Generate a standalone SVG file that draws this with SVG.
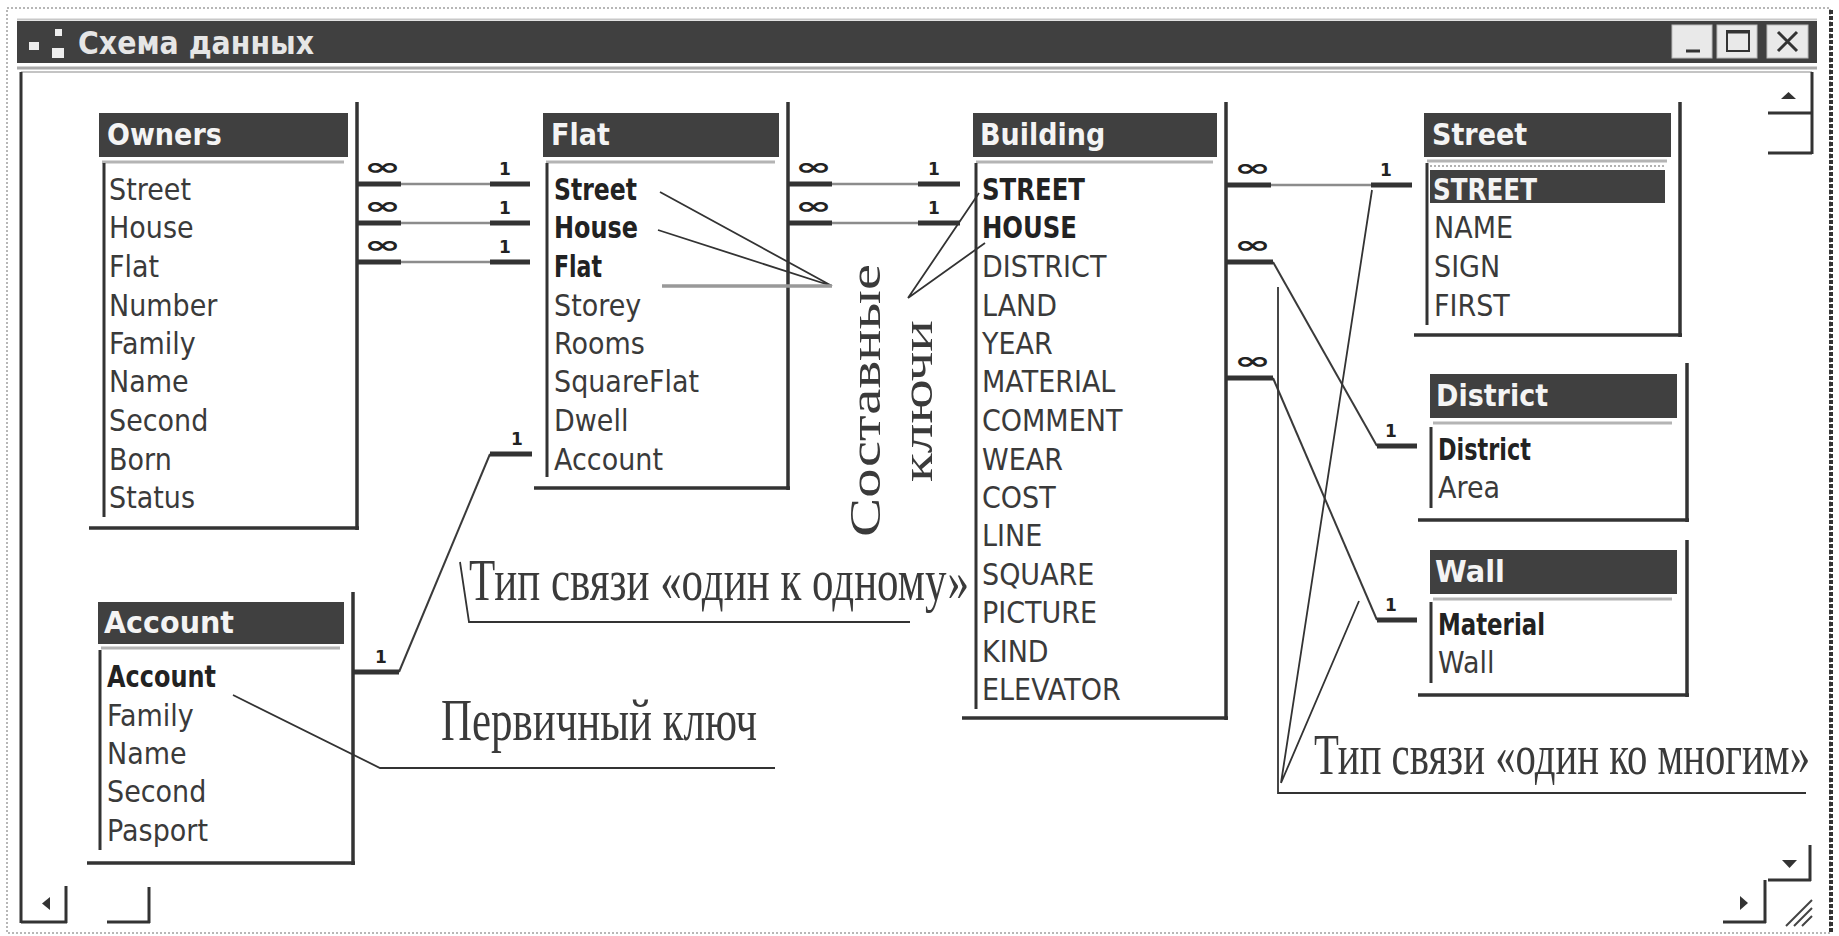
<svg xmlns="http://www.w3.org/2000/svg" width="1839" height="936" viewBox="0 0 1839 936">
<style>
.f{font-family:"DejaVu Sans",Verdana,sans-serif;font-size:27px;fill:#3a3a3a}
.fb{font-family:"DejaVu Sans",Verdana,sans-serif;font-size:27px;font-weight:bold;fill:#222}
.h{font-family:"DejaVu Sans",Verdana,sans-serif;font-size:27px;font-weight:bold;fill:#f4f4f4}
.hd{fill:#404040}
.ul{stroke:#b4b4b4;stroke-width:3;fill:none}
.bl{stroke:#333;stroke-width:3;fill:none}
.br{stroke:#333;stroke-width:3.5;fill:none}
.thin{stroke:#8c8c8c;stroke-width:2.5;fill:none}
.thick{stroke:#333;stroke-width:5;fill:none}
.diag{stroke:#3a3a3a;stroke-width:2;fill:none}
.inf{font-family:"DejaVu Sans",sans-serif;font-size:24px;font-weight:bold;fill:#222}
.one{font-family:"DejaVu Sans",sans-serif;font-size:17px;font-weight:bold;fill:#222}
.ann{stroke:#333;stroke-width:1.8;fill:none}
.at{font-family:"Liberation Serif","Times New Roman",serif;fill:#3a3a3a}
.win{stroke:#333;stroke-width:3;fill:none}
.btn{fill:#e9e9e9;stroke:#bbb;stroke-width:1}
</style>

<!-- window frame -->
<g id="window">
<rect x="0" y="0" width="1839" height="936" fill="#fff"/>
<rect x="7" y="8" width="1823" height="925" fill="#fff" stroke="#a0a0a0" stroke-width="1.5" stroke-dasharray="2 2"/>
<line x1="1831" y1="10" x2="1831" y2="933" stroke="#333" stroke-width="4" stroke-dasharray="4 2"/>
<rect x="17" y="21" width="1800" height="42" fill="#404040"/>
<line x1="17" y1="19.5" x2="1817" y2="19.5" stroke="#c8c8c8" stroke-width="2"/>
<line x1="17" y1="68" x2="1817" y2="68" stroke="#aaa" stroke-width="3"/>
<rect x="29" y="42" width="10" height="8" fill="#eee"/>
<rect x="55" y="29" width="7" height="7" fill="#eee"/>
<rect x="52" y="48" width="12" height="10" fill="#eee"/>
<text transform="translate(78,54) scale(1,1.15)" font-family="DejaVu Sans,Verdana,sans-serif" font-size="28" font-weight="bold" fill="#e6e6e6" textLength="236" lengthAdjust="spacingAndGlyphs">Схема данных</text>
<rect class="btn" x="1672" y="25" width="40" height="33"/>
<line x1="1686" y1="51" x2="1700" y2="51" stroke="#333" stroke-width="3"/>
<rect class="btn" x="1717" y="25" width="40" height="33"/>
<rect x="1727" y="31" width="22" height="20" fill="none" stroke="#333" stroke-width="2"/>
<line x1="1727" y1="32" x2="1749" y2="32" stroke="#333" stroke-width="3"/>
<rect class="btn" x="1767" y="25" width="41" height="33"/>
<path d="M1778 32 L1797 51 M1797 32 L1778 51" stroke="#333" stroke-width="3"/>
<line x1="21" y1="72" x2="1812" y2="72" stroke="#b0b0b0" stroke-width="1.5"/>
<line x1="21" y1="72" x2="21" y2="923" class="win"/>
<line x1="1812" y1="72" x2="1812" y2="154" class="win"/>
<line x1="1768" y1="113" x2="1812" y2="113" class="win"/>
<line x1="1768" y1="153" x2="1812" y2="153" class="win"/>
<polygon points="1781,99 1796,99 1788.5,92" fill="#333"/>
<line x1="1810" y1="845" x2="1810" y2="881" class="win"/>
<line x1="1768" y1="880" x2="1811" y2="880" class="win"/>
<polygon points="1782,860 1797,860 1789.5,868" fill="#333"/>
<line x1="1765" y1="880" x2="1765" y2="923" class="win"/>
<line x1="1723" y1="922" x2="1766" y2="922" class="win"/>
<polygon points="1740,896 1740,910 1748,903" fill="#333"/>
<path d="M1786 926 L1812 900 M1794 926 L1812 908 M1802 926 L1812 916" stroke="#444" stroke-width="2"/>
<line x1="21" y1="922" x2="67" y2="922" class="win"/>
<line x1="66" y1="886" x2="66" y2="923" class="win"/>
<polygon points="50,897 50,910 42,903.5" fill="#333"/>
<line x1="107" y1="922" x2="150" y2="922" class="win"/>
<line x1="149" y1="887" x2="149" y2="923" class="win"/>
</g>

<!-- connectors -->
<g id="connectors">
<line class="thin" x1="357" y1="184" x2="530" y2="184"/>
<line class="thin" x1="357" y1="223" x2="530" y2="223"/>
<line class="thin" x1="357" y1="262" x2="530" y2="262"/>
<path class="thick" d="M357 184 H401 M490 184 H530 M357 223 H401 M490 223 H530 M357 262 H401 M490 262 H530"/>
<text class="inf" x="364" y="175" textLength="37" lengthAdjust="spacingAndGlyphs">∞</text>
<text class="inf" x="364" y="214" textLength="37" lengthAdjust="spacingAndGlyphs">∞</text>
<text class="inf" x="364" y="253" textLength="37" lengthAdjust="spacingAndGlyphs">∞</text>
<text class="one" x="499" y="175">1</text>
<text class="one" x="499" y="214">1</text>
<text class="one" x="499" y="253">1</text>
<line class="thin" x1="788" y1="184" x2="960" y2="184"/>
<line class="thin" x1="788" y1="223" x2="960" y2="223"/>
<path class="thick" d="M788 184 H832 M918 184 H960 M788 223 H832 M918 223 H960"/>
<text class="inf" x="795" y="175" textLength="37" lengthAdjust="spacingAndGlyphs">∞</text>
<text class="inf" x="795" y="214" textLength="37" lengthAdjust="spacingAndGlyphs">∞</text>
<text class="one" x="928" y="175">1</text>
<text class="one" x="928" y="214">1</text>
<line class="thin" x1="1226" y1="185" x2="1412" y2="185"/>
<path class="thick" d="M1226 185 H1271 M1371 185 H1412"/>
<text class="inf" x="1234" y="176" textLength="37" lengthAdjust="spacingAndGlyphs">∞</text>
<text class="one" x="1380" y="176">1</text>
<path class="diag" d="M1273 262 L1377 446"/>
<path class="thick" d="M1226 262 H1273 M1377 446 H1417"/>
<text class="inf" x="1234" y="253" textLength="37" lengthAdjust="spacingAndGlyphs">∞</text>
<text class="one" x="1385" y="437">1</text>
<path class="diag" d="M1273 378 L1377 620"/>
<path class="thick" d="M1226 378 H1273 M1377 620 H1417"/>
<text class="inf" x="1234" y="369" textLength="37" lengthAdjust="spacingAndGlyphs">∞</text>
<text class="one" x="1385" y="611">1</text>
<path class="diag" d="M399 672 L490 454"/>
<path class="thick" d="M353 672 H399 M490 454 H532"/>
<text class="one" x="375" y="663">1</text>
<text class="one" x="511" y="445">1</text>
</g>

<!-- tables -->
<g id="owners">
<rect class="hd" x="99" y="113" width="249" height="44"/>
<line class="ul" x1="102" y1="162" x2="344" y2="162"/>
<line class="bl" x1="104" y1="163" x2="104" y2="517"/>
<line class="br" x1="357" y1="102" x2="357" y2="530"/>
<line class="br" x1="89" y1="528" x2="359" y2="528"/>
<g transform="scale(1,1.12)">
<text class="h" x="107" y="129.46">Owners</text>
<text class="f" x="109" y="178.57">Street</text>
<text class="f" x="109" y="212.95">House</text>
<text class="f" x="109" y="247.32">Flat</text>
<text class="f" x="109" y="281.70">Number</text>
<text class="f" x="109" y="316.07">Family</text>
<text class="f" x="109" y="350.45">Name</text>
<text class="f" x="109" y="384.82">Second</text>
<text class="f" x="109" y="419.20">Born</text>
<text class="f" x="109" y="453.57">Status</text>
</g>
</g>

<g id="flat">
<rect class="hd" x="543" y="113" width="236" height="44"/>
<line class="ul" x1="546" y1="162" x2="775" y2="162"/>
<line class="bl" x1="547" y1="163" x2="547" y2="477"/>
<line class="br" x1="788" y1="102" x2="788" y2="490"/>
<line class="br" x1="534" y1="488" x2="790" y2="488"/>
<g transform="scale(1,1.12)">
<text class="h" x="551" y="129.46">Flat</text>
<text class="fb" x="554" y="178.57" textLength="83" lengthAdjust="spacingAndGlyphs">Street</text>
<text class="fb" x="554" y="212.95" textLength="84" lengthAdjust="spacingAndGlyphs">House</text>
<text class="fb" x="554" y="247.32" textLength="48" lengthAdjust="spacingAndGlyphs">Flat</text>
<text class="f" x="554" y="281.70">Storey</text>
<text class="f" x="554" y="316.07">Rooms</text>
<text class="f" x="554" y="350.45">SquareFlat</text>
<text class="f" x="554" y="384.82">Dwell</text>
<text class="f" x="554" y="419.20">Account</text>
</g>
</g>

<g id="building">
<rect class="hd" x="973" y="113" width="244" height="44"/>
<line class="ul" x1="976" y1="162" x2="1213" y2="162"/>
<line class="bl" x1="976" y1="163" x2="976" y2="709"/>
<line class="br" x1="1226" y1="102" x2="1226" y2="720"/>
<line class="br" x1="962" y1="718" x2="1228" y2="718"/>
<g transform="scale(1,1.12)">
<text class="h" x="980" y="129.46">Building</text>
<text class="fb" x="982" y="178.57" textLength="103" lengthAdjust="spacingAndGlyphs">STREET</text>
<text class="fb" x="982" y="212.95" textLength="95" lengthAdjust="spacingAndGlyphs">HOUSE</text>
<text class="f" x="982" y="247.32">DISTRICT</text>
<text class="f" x="982" y="281.70">LAND</text>
<text class="f" x="982" y="316.07">YEAR</text>
<text class="f" x="982" y="350.45">MATERIAL</text>
<text class="f" x="982" y="384.82">COMMENT</text>
<text class="f" x="982" y="419.20">WEAR</text>
<text class="f" x="982" y="453.57">COST</text>
<text class="f" x="982" y="487.95">LINE</text>
<text class="f" x="982" y="522.32">SQUARE</text>
<text class="f" x="982" y="556.70">PICTURE</text>
<text class="f" x="982" y="591.07">KIND</text>
<text class="f" x="982" y="625.45">ELEVATOR</text>
</g>
</g>

<g id="street">
<rect class="hd" x="1424" y="113" width="247" height="44"/>
<line class="ul" x1="1427" y1="161" x2="1667" y2="161"/>
<line x1="1430" y1="166" x2="1665" y2="166" stroke="#999" stroke-width="1.5" stroke-dasharray="2 2"/>
<rect class="hd" x="1430" y="170" width="235" height="33"/>
<line class="bl" x1="1427" y1="163" x2="1427" y2="325"/>
<line class="br" x1="1680" y1="102" x2="1680" y2="337"/>
<line class="br" x1="1414" y1="335" x2="1682" y2="335"/>
<g transform="scale(1,1.12)">
<text class="h" x="1432" y="129.46">Street</text>
<text class="h" x="1433" y="178.57" textLength="104" lengthAdjust="spacingAndGlyphs">STREET</text>
<text class="f" x="1434" y="212.95">NAME</text>
<text class="f" x="1434" y="247.32">SIGN</text>
<text class="f" x="1434" y="281.70">FIRST</text>
</g>
</g>

<g id="district">
<rect class="hd" x="1430" y="374" width="247" height="44"/>
<line class="ul" x1="1433" y1="423" x2="1672" y2="423"/>
<line class="bl" x1="1431" y1="427" x2="1431" y2="508"/>
<line class="br" x1="1687" y1="363" x2="1687" y2="522"/>
<line class="br" x1="1418" y1="520" x2="1689" y2="520"/>
<g transform="scale(1,1.12)">
<text class="h" x="1436" y="362.5">District</text>
<text class="fb" x="1438" y="410.71" textLength="93" lengthAdjust="spacingAndGlyphs">District</text>
<text class="f" x="1438" y="445.09">Area</text>
</g>
</g>

<g id="wall">
<rect class="hd" x="1430" y="550" width="247" height="44"/>
<line class="ul" x1="1433" y1="599" x2="1672" y2="599"/>
<line class="bl" x1="1431" y1="602" x2="1431" y2="683"/>
<line class="br" x1="1687" y1="540" x2="1687" y2="697"/>
<line class="br" x1="1418" y1="695" x2="1689" y2="695"/>
<g transform="scale(1,1.12)">
<text class="h" x="1435" y="519.64" textLength="70" lengthAdjust="spacingAndGlyphs">Wall</text>
<text class="fb" x="1438" y="566.96" textLength="107" lengthAdjust="spacingAndGlyphs">Material</text>
<text class="f" x="1438" y="601.34">Wall</text>
</g>
</g>

<g id="account">
<rect class="hd" x="98" y="602" width="246" height="42"/>
<line class="ul" x1="101" y1="648" x2="340" y2="648"/>
<line class="bl" x1="100" y1="650" x2="100" y2="850"/>
<line class="br" x1="353" y1="592" x2="353" y2="865"/>
<line class="br" x1="87" y1="863" x2="355" y2="863"/>
<g transform="scale(1,1.12)">
<text class="h" x="104" y="565.18" textLength="130" lengthAdjust="spacingAndGlyphs">Account</text>
<text class="fb" x="107" y="613.39" textLength="109" lengthAdjust="spacingAndGlyphs">Account</text>
<text class="f" x="107" y="647.77">Family</text>
<text class="f" x="107" y="682.14">Name</text>
<text class="f" x="107" y="716.52">Second</text>
<text class="f" x="107" y="750.89">Pasport</text>
</g>
</g>

<!-- annotations -->
<g id="annotations">
<path class="ann" d="M660 192 L832 286 M658 230 L832 286 M908 298 L979 193 M908 298 L985 243"/>
<line x1="662" y1="286" x2="832" y2="286" stroke="#999" stroke-width="3.5"/>
<text class="at" font-size="44" transform="translate(880,537) rotate(-90)" textLength="273" lengthAdjust="spacingAndGlyphs">Составные</text>
<text class="at" font-size="44" transform="translate(932,482) rotate(-90)" textLength="162" lengthAdjust="spacingAndGlyphs">ключи</text>
<path class="ann" d="M460 562 L469 622 L910 622"/>
<text class="at" font-size="43.5" transform="translate(469,600) scale(1,1.38)" textLength="500" lengthAdjust="spacingAndGlyphs">Тип связи «один к одному»</text>
<path class="ann" d="M233 695 L380 768 L775 768"/>
<text class="at" font-size="44" transform="translate(441,740) scale(1,1.36)" textLength="316" lengthAdjust="spacingAndGlyphs">Первичный ключ</text>
<path class="ann" d="M1278 287 L1278 793 L1806 793 M1281 783 L1372 190 M1281 783 L1359 601"/>
<text class="at" font-size="40" transform="translate(1314,774) scale(1,1.45)" textLength="496" lengthAdjust="spacingAndGlyphs">Тип связи «один ко многим»</text>
</g>
</svg>
